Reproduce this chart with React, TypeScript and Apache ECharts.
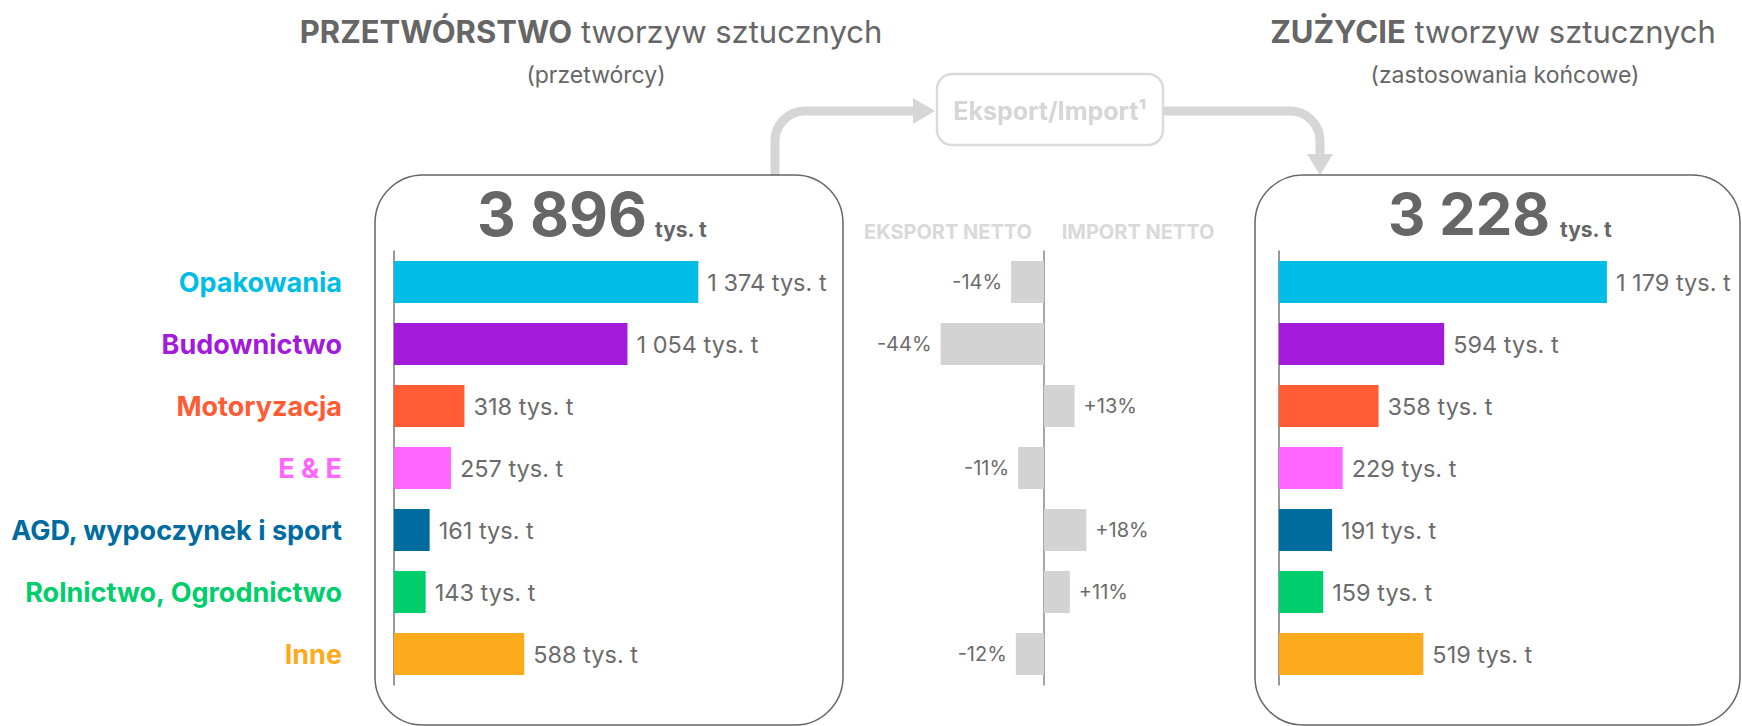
import React, { useEffect, useRef } from "react";
import * as echarts from "echarts";

const categories = [
  "Opakowania",
  "Budownictwo",
  "Motoryzacja",
  "E & E",
  "AGD, wypoczynek i sport",
  "Rolnictwo, Ogrodnictwo",
  "Inne",
];
const categoryColors = ["#00BDE6", "#A21ADA", "#FF5B35", "#FF66FF", "#006B9F", "#00CD6C", "#FDAA1D"];
const processing = [1374, 1054, 318, 257, 161, 143, 588];
const netTrade = [-14, -44, 13, -11, 18, 11, -12];
const consumption = [1179, 594, 358, 229, 191, 159, 519];
const totalProcessing = "3 896";
const totalConsumption = "3 228";
const unit = "tys. t";

const FONT = "Inter, 'Open Sans', sans-serif";
const GREY = "#666666";

function fmt(v: number): string {
  const s = String(v);
  return s.length > 3 ? s.slice(0, s.length - 3) + " " + s.slice(-3) : s;
}

export default function App() {
  const ref = useRef<HTMLDivElement>(null);
  useEffect(() => {
    if (!ref.current) return;
    const chart = echarts.init(ref.current, null, { renderer: "svg" });
    const gridTop = 251;
    const gridH = 434;
    const valueLabel = {
      show: true,
      position: "right",
      distance: 9,
      color: "#6b6b6b",
      fontSize: 23.5,
      fontFamily: FONT,
      formatter: (p: any) => fmt(p.value) + " " + unit,
    };
    const arrowStyle = { stroke: "#D6D6D6", lineWidth: 9, fill: null };
    const option: any = {
      animation: false,
      backgroundColor: "#ffffff",
      textStyle: { fontFamily: FONT },
      grid: [
        { left: 394, top: gridTop, width: 443, height: gridH },
        { left: 926.5, top: gridTop, width: 235, height: gridH },
        { left: 1279, top: gridTop, width: 445, height: gridH },
      ],
      xAxis: [
        { gridIndex: 0, type: "value", min: 0, max: 2000, show: false },
        { gridIndex: 1, type: "value", min: -50, max: 50, show: false },
        { gridIndex: 2, type: "value", min: 0, max: 1600, show: false },
      ],
      yAxis: [
        {
          gridIndex: 0,
          type: "category",
          inverse: true,
          data: categories,
          axisLine: { show: true, lineStyle: { color: "#777", width: 1.5 } },
          axisTick: { show: false },
          axisLabel: {
            margin: 52,
            fontSize: 27,
            fontWeight: "bold",
            fontFamily: FONT,
            color: (_v: any, i: number) => categoryColors[i],
          },
        },
        {
          gridIndex: 1,
          type: "category",
          inverse: true,
          data: categories,
          axisLine: { show: true, onZero: true, lineStyle: { color: "#888", width: 1.5 } },
          axisTick: { show: false },
          axisLabel: { show: false },
        },
        {
          gridIndex: 2,
          type: "category",
          inverse: true,
          data: categories,
          axisLine: { show: true, lineStyle: { color: "#777", width: 1.5 } },
          axisTick: { show: false },
          axisLabel: { show: false },
        },
      ],
      series: [
        {
          type: "bar",
          xAxisIndex: 0,
          yAxisIndex: 0,
          barWidth: 42,
          data: processing.map((v, i) => ({ value: v, itemStyle: { color: categoryColors[i] } })),
          label: valueLabel,
        },
        {
          type: "bar",
          xAxisIndex: 1,
          yAxisIndex: 1,
          barWidth: 42,
          itemStyle: { color: "#D3D3D3" },
          data: netTrade.map((v) => ({
            value: v,
            label: { position: v < 0 ? "left" : "right" },
          })),
          label: {
            show: true,
            distance: 9,
            color: "#6b6b6b",
            fontSize: 20,
            fontFamily: FONT,
            formatter: (p: any) => (p.value > 0 ? "+" : "") + p.value + "%",
          },
        },
        {
          type: "bar",
          xAxisIndex: 2,
          yAxisIndex: 2,
          barWidth: 42,
          data: consumption.map((v, i) => ({ value: v, itemStyle: { color: categoryColors[i] } })),
          label: valueLabel,
        },
      ],
      graphic: [
        // titles
        {
          type: "text",
          x: 591,
          y: 31,
          style: {
            text: "{b|PRZETWÓRSTWO} tworzyw sztucznych",
            align: "center",
            verticalAlign: "middle",
            fontSize: 31,
            fontFamily: FONT,
            fill: GREY,
            rich: { b: { fontWeight: "bold", fontSize: 31, fontFamily: FONT, fill: GREY } },
          },
        },
        {
          type: "text",
          x: 596,
          y: 75,
          style: { text: "(przetwórcy)", align: "center", verticalAlign: "middle", fontSize: 23, fontFamily: FONT, fill: GREY },
        },
        {
          type: "text",
          x: 1493,
          y: 31,
          style: {
            text: "{b|ZUŻYCIE} tworzyw sztucznych",
            align: "center",
            verticalAlign: "middle",
            fontSize: 31,
            fontFamily: FONT,
            fill: GREY,
            rich: { b: { fontWeight: "bold", fontSize: 31, fontFamily: FONT, fill: GREY } },
          },
        },
        {
          type: "text",
          x: 1505,
          y: 75,
          style: { text: "(zastosowania końcowe)", align: "center", verticalAlign: "middle", fontSize: 23, fontFamily: FONT, fill: GREY },
        },
        // arrows
        { type: "line", shape: { x1: 775, y1: 176, x2: 775, y2: 141 }, style: arrowStyle },
        { type: "arc", shape: { cx: 805, cy: 141, r: 30, startAngle: Math.PI, endAngle: Math.PI * 1.5, clockwise: true }, style: arrowStyle },
        { type: "line", shape: { x1: 805, y1: 111, x2: 916, y2: 111 }, style: arrowStyle },
        { type: "polygon", shape: { points: [[913, 98], [935, 111], [913, 124]] }, style: { fill: "#D6D6D6" } },
        { type: "line", shape: { x1: 1163, y1: 111, x2: 1290, y2: 111 }, style: arrowStyle },
        { type: "arc", shape: { cx: 1290, cy: 141, r: 30, startAngle: -Math.PI / 2, endAngle: 0, clockwise: true }, style: arrowStyle },
        { type: "line", shape: { x1: 1320, y1: 141, x2: 1320, y2: 157 }, style: arrowStyle },
        { type: "polygon", shape: { points: [[1307, 154], [1333, 154], [1320, 175]] }, style: { fill: "#D6D6D6" } },
        {
          type: "rect",
          shape: { x: 937, y: 74, width: 226, height: 71, r: 15 },
          style: { fill: "#ffffff", stroke: "#DADADA", lineWidth: 2.5 },
        },
        {
          type: "text",
          x: 1050,
          y: 111,
          style: { text: "Eksport/Import¹", align: "center", verticalAlign: "middle", fontSize: 25, fontWeight: "bold", fontFamily: FONT, fill: "#D6D6D6" },
        },
        // boxes
        {
          type: "rect",
          shape: { x: 375, y: 175, width: 468, height: 550, r: 48 },
          style: { fill: null, stroke: "#666", lineWidth: 1.5 },
        },
        {
          type: "rect",
          shape: { x: 1255, y: 175, width: 485, height: 550, r: 48 },
          style: { fill: null, stroke: "#666", lineWidth: 1.5 },
        },
        // totals
        {
          type: "text",
          x: 647,
          y: 214,
          style: { text: totalProcessing, align: "right", verticalAlign: "middle", fontSize: 60, fontWeight: "bold", fontFamily: FONT, fill: GREY },
        },
        {
          type: "text",
          x: 655,
          y: 229,
          style: { text: unit, align: "left", verticalAlign: "middle", fontSize: 21, fontWeight: "bold", fontFamily: FONT, fill: GREY },
        },
        {
          type: "text",
          x: 1550,
          y: 214,
          style: { text: totalConsumption, align: "right", verticalAlign: "middle", fontSize: 58, fontWeight: "bold", fontFamily: FONT, fill: GREY },
        },
        {
          type: "text",
          x: 1560,
          y: 229,
          style: { text: unit, align: "left", verticalAlign: "middle", fontSize: 21, fontWeight: "bold", fontFamily: FONT, fill: GREY },
        },
        // headers
        {
          type: "text",
          x: 948,
          y: 232,
          style: { text: "EKSPORT NETTO", align: "center", verticalAlign: "middle", fontSize: 20, fontWeight: "bold", fontFamily: FONT, fill: "#D9D9D9" },
        },
        {
          type: "text",
          x: 1138,
          y: 232,
          style: { text: "IMPORT NETTO", align: "center", verticalAlign: "middle", fontSize: 20, fontWeight: "bold", fontFamily: FONT, fill: "#D9D9D9" },
        },
      ],
    };
    chart.setOption(option);
    return () => chart.dispose();
  }, []);
  return <div ref={ref} style={{ position: "fixed", left: 0, top: 0, width: 1742, height: 726 }} />;
}
